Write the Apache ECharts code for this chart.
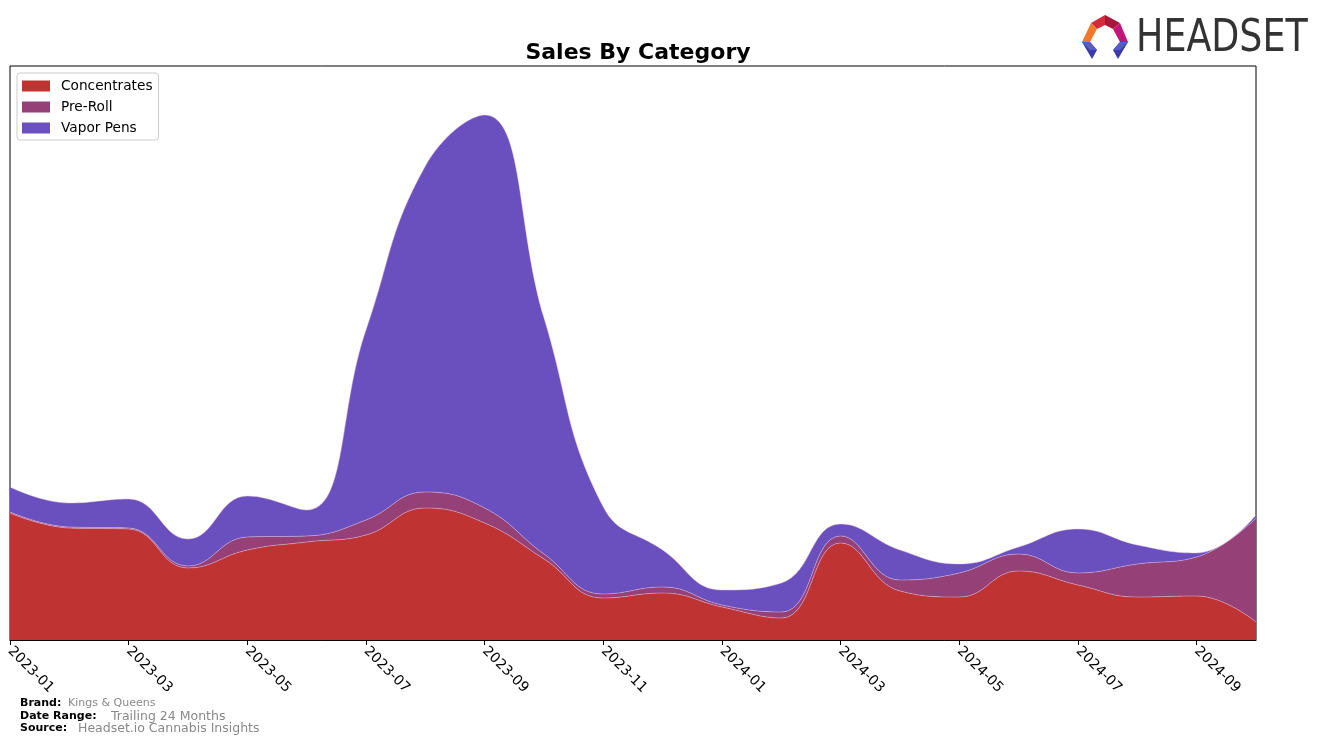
<!DOCTYPE html>
<html>
<head>
<meta charset="utf-8">
<script src="https://cdn.jsdelivr.net/npm/echarts@6/dist/echarts.min.js"></script>
<style>
html,body{margin:0;padding:0;background:#fff;}
#chart{width:1320px;height:745px;}
</style>
</head>
<body>
<div id="chart"></div>
<script>
// Months (data points) and values (relative sales units)
const months = ["2023-01","2023-02","2023-03","2023-04","2023-05","2023-06","2023-07","2023-08","2023-09","2023-10","2023-11","2023-12",
                "2024-01","2024-02","2024-03","2024-04","2024-05","2024-06","2024-07","2024-08","2024-09","2024-10"];
const concentrates = [127,112,111,72,90,98,105,132,117,81,42,47,33,22,97,49,43,69,55,43,44,18];
const preRoll      = [1,1,1,2,13,6,15,16,15,5,4,6,2,6,7,11,24,17,12,33,39,104];
const vaporPens    = [25,24,29,27,41,26,190,326,393,236,87,37,15,29,12,30,9,7,44,19,4,3];
const seriesNames  = ["Concentrates","Pre-Roll","Vapor Pens"];
const seriesColors = ["#c03333","#954076","#6a4fbe"];
const yMax = 574;

const chart = echarts.init(document.getElementById('chart'), null, {renderer:'canvas'});
const dataSets = [concentrates, preRoll, vaporPens];

const series = dataSets.map((d,i)=>({
  name: seriesNames[i],
  type: 'line',
  stack: 'total',
  smooth: 0.45,
  symbol: 'none',
  data: d,
  lineStyle: {width: 0.8, color: 'rgba(235,200,225,0.55)'},
  areaStyle: {color: seriesColors[i], opacity: 1},
  itemStyle: {color: seriesColors[i]},
  z: 2
}));

const option = {
  animation: false,
  backgroundColor: '#fff',
  title: {
    text: 'Sales By Category',
    left: 633, top: 37,
    textAlign: 'center',
    textStyle: {fontFamily: 'DejaVu Sans', fontSize: 22, fontWeight: 'bold', color: '#000'}
  },
  legend: {
    orient: 'vertical',
    left: 17, top: 73,
    padding: [6, 6, 5, 5],
    itemWidth: 28, itemHeight: 11,
    itemGap: 7,
    borderColor: '#cccccc', borderWidth: 1, borderRadius: 3,
    backgroundColor: '#fff',
    textStyle: {fontFamily: 'DejaVu Sans', fontSize: 13.7, color: '#000', padding:[0,0,0,6]},
    data: seriesNames.map((n,i)=>({name:n, icon:'rect', itemStyle:{color:seriesColors[i]}}))
  },
  grid: {
    left: 10, right: 64, top: 66, bottom: 105,
    show: true, borderColor: '#000', borderWidth: 1, backgroundColor: 'transparent'
  },
  xAxis: {
    type: 'category',
    data: months,
    boundaryGap: false,
    axisLine: {show: true, lineStyle: {color: '#000', width: 1}},
    axisTick: {show: true, interval: 1, length: 5, lineStyle: {color: '#000'}},
    axisLabel: {
      interval: 1, rotate: -45, margin: 9,
      fontFamily: 'DejaVu Sans', fontSize: 14, color: '#000'
    },
    splitLine: {show: false}
  },
  yAxis: {
    type: 'value', min: 0, max: yMax,
    axisLine: {show: false}, axisTick: {show: false}, axisLabel: {show: false},
    splitLine: {show: false}
  },
  series: series,
  graphic: [
    // footer
    {type:'text', left: 20, top: 698, style:{text:'Brand:', font:'bold 11px "DejaVu Sans"', fill:'#000'}},
    {type:'text', left: 68, top: 698, style:{text:'Kings & Queens', font:'11px "DejaVu Sans"', fill:'#888'}},
    {type:'text', left: 20, top: 711, style:{text:'Date Range:', font:'bold 11px "DejaVu Sans"', fill:'#000'}},
    {type:'text', left: 111, top: 710, style:{text:'Trailing 24 Months', font:'12.5px "DejaVu Sans"', fill:'#888'}},
    {type:'text', left: 20, top: 723, style:{text:'Source:', font:'bold 11px "DejaVu Sans"', fill:'#000'}},
    {type:'text', left: 78, top: 722, style:{text:'Headset.io Cannabis Insights', font:'12.5px "DejaVu Sans"', fill:'#888'}},
    // logo text
    {type:'text', left: 1136, top: 18, style:{text:'HEADSET', font:'44px "DejaVu Sans Condensed"', fill:'#333'}, scaleX: 0.92},
    // logo icon (approximation)
    {type:'polygon', shape:{points:[[1091,23],[1105,15],[1105,25],[1097,29]]}, style:{fill:'#d4283c'}},
    {type:'polygon', shape:{points:[[1105,15],[1120,23],[1113,29],[1105,25]]}, style:{fill:'#a8163a'}},
    {type:'polygon', shape:{points:[[1120,23],[1128,42],[1120,42],[1113,29]]}, style:{fill:'#c2157a'}},
    {type:'polygon', shape:{points:[[1091,23],[1097,29],[1090,42],[1082,42]]}, style:{fill:'#f07a2a'}},
    {type:'polygon', shape:{points:[[1082,42],[1090,42],[1097,50],[1092,59]]}, style:{fill:'#3c3ca8'}},
    {type:'polygon', shape:{points:[[1082,42],[1090,42],[1097,50],[1090,50]]}, style:{fill:'#5a5ad0'}},
    {type:'polygon', shape:{points:[[1128,42],[1120,42],[1113,50],[1118,59]]}, style:{fill:'#3c3ca8'}},
    {type:'polygon', shape:{points:[[1128,42],[1120,42],[1113,50],[1120,50]]}, style:{fill:'#5a5ad0'}}
  ]
};
chart.setOption(option);
</script>
</body>
</html>
